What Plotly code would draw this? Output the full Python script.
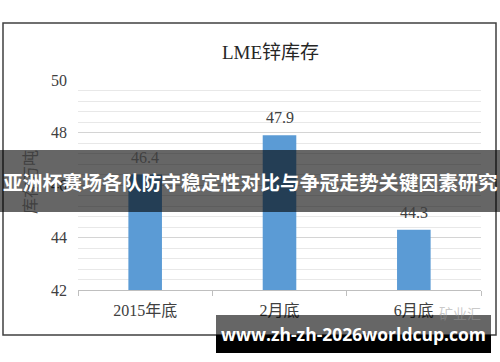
import plotly.graph_objects as go

categories = ["2015年底", "2月底", "6月底"]
values = [46.4, 47.9, 44.3]
y_ticks = [42, 44, 46, 48, 50]
title_text = "LME锌库存"
y_title = "库存万吨"
banner_text = "亚洲杯赛场各队防守稳定性对比与争冠走势关键因素研究"
watermark_text = "www.zh-zh-2026worldcup.com"

W_FIG, H_FIG = 500, 362
L, R, T, B = 78, 481, 80, 290
PW, PH = R - L, B - T


def px(x):
    return (x - L) / PW


def py(y):
    return (B - y) / PH


SERIF = "Liberation Serif, Noto Sans CJK SC, serif"
CJK = "Noto Sans CJK SC, sans-serif"

fig = go.Figure()
fig.add_trace(go.Bar(
    x=categories, y=values,
    marker=dict(color="#5B9BD5", line=dict(width=0)),
    cliponaxis=False,
))

shapes = [
    # outer frame
    dict(type="rect", xref="paper", yref="paper",
         x0=px(3), x1=px(496), y0=py(335), y1=py(23),
         line=dict(color="#404040", width=1.5), layer="below"),
    # banner
    dict(type="rect", xref="paper", yref="paper",
         x0=px(0), x1=px(500), y0=py(212), y1=py(150),
         fillcolor="rgba(0,0,0,0.6)", line=dict(width=0), layer="above"),
    # watermark box
    dict(type="rect", xref="paper", yref="paper",
         x0=px(216), x1=px(491), y0=py(335), y1=py(315),
         fillcolor="rgba(0,0,0,0.6)", line=dict(width=0), layer="above"),
    dict(type="rect", xref="paper", yref="paper",
         x0=px(216), x1=px(491), y0=py(353), y1=py(335),
         fillcolor="#000000", line=dict(width=0), layer="above"),
]

annotations = []
# data labels
for c, v in zip(categories, values):
    annotations.append(dict(
        text=f"{v:.1f}", x=c, y=v, xref="x", yref="y",
        showarrow=False, yanchor="bottom", xanchor="center", yshift=7,
        font=dict(family=SERIF, size=16, color="#404040"),
    ))

annotations += [
    dict(text=title_text, xref="paper", yref="paper", x=px(270), y=py(52),
         showarrow=False, font=dict(family=SERIF, size=19, color="#262626"),
         xanchor="center", yanchor="middle"),
    dict(text=y_title, xref="paper", yref="paper", x=px(30), y=py(182),
         showarrow=False, textangle=-90,
         font=dict(family=SERIF, size=16, color="#404040"),
         xanchor="center", yanchor="middle"),
    dict(text="矿业汇", xref="paper", yref="paper", x=px(460), y=py(313),
         showarrow=False, font=dict(family=CJK, size=14, color="rgba(150,150,150,0.5)"),
         xanchor="center", yanchor="middle"),
    dict(text=f"<b>{banner_text}</b>", xref="paper", yref="paper", x=px(250), y=py(181),
         showarrow=False, font=dict(family=CJK, size=19.8, color="#ffffff"),
         xanchor="center", yanchor="middle"),
    dict(text=f"<b>{watermark_text}</b>", xref="paper", yref="paper", x=px(353), y=py(334),
         showarrow=False, font=dict(family="Open Sans, sans-serif", size=17.5, color="#ffffff"),
         xanchor="center", yanchor="middle"),
]

fig.update_layout(
    width=W_FIG, height=H_FIG,
    margin=dict(l=L, r=W_FIG - R, t=T, b=H_FIG - B, pad=0),
    paper_bgcolor="white", plot_bgcolor="white",
    showlegend=False,
    bargap=0.75,
    shapes=shapes,
    annotations=annotations,
    xaxis=dict(
        tickfont=dict(family=SERIF, size=16, color="#404040"),
        showline=True, linecolor="#bfbfbf", linewidth=1,
        ticks="outside", tickson="boundaries", ticklen=5, tickcolor="#bfbfbf",
        ticklabelstandoff=6,
        showgrid=False, zeroline=False,
    ),
    yaxis=dict(
        range=[42, 50], tickvals=y_ticks,
        tickfont=dict(family=SERIF, size=16, color="#404040"),
        showline=False, zeroline=False,
        showgrid=True, gridcolor="#d4d4d4", gridwidth=1,
        ticks="", ticklabelstandoff=10,
        minor=dict(dtick=0.4, showgrid=True, gridcolor="#e8e8e8", gridwidth=1),
    ),
)

fig.write_html("out.html")
